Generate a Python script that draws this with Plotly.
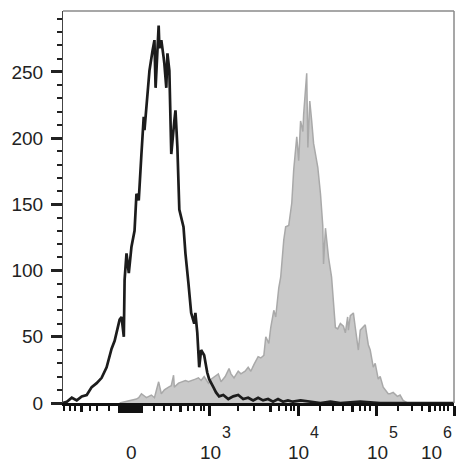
import plotly.graph_objects as go

# Display-scale channel positions (0..1022) and event counts
black_x = [0, 10, 23, 36, 49, 62, 75, 88, 101, 114, 127, 135, 148, 153, 159, 161, 166, 172, 179, 187,
           192, 198, 205, 211, 213, 221, 226, 234, 239, 242, 247, 250, 252, 257, 263, 265, 270, 273, 278, 283,
           291, 294, 299, 304, 315, 320, 328, 335, 343, 346, 351, 356, 361, 369, 377, 382, 393, 400, 408, 419,
           432, 445, 458, 471, 484, 497, 510, 523, 536, 549, 562, 575, 588, 601, 621, 647, 673, 699, 725, 777,
           829, 881, 933, 1022]
black_y = [0, 1, 4, 2, 5, 6, 12, 15, 19, 27, 41, 47, 63, 65, 50, 93, 113, 98, 118, 130,
           158, 153, 188, 216, 206, 238, 251, 266, 274, 238, 276, 285, 268, 274, 261, 256, 238, 264, 251, 188,
           213, 221, 193, 146, 133, 113, 90, 68, 60, 68, 53, 27, 40, 36, 23, 18, 12, 8, 5, 6,
           3, 5, 6, 3, 4, 2, 4, 2, 3, 1, 3, 1, 2, 1, 2, 1, 0, 1, 0, 1,
           0, 0, 0, 0]

gray_x = [148, 166, 179, 192, 198, 205, 218, 231, 239, 250, 257, 265, 276, 283, 289, 291, 302, 309, 320, 328,
          335, 346, 354, 361, 369, 380, 387, 398, 406, 413, 424, 434, 439, 447, 458, 465, 476, 484, 491, 499,
          510, 517, 525, 530, 538, 543, 551, 556, 564, 569, 577, 582, 590, 598, 603, 611, 616, 621, 627, 629,
          634, 637, 640, 645, 650, 655, 666, 673, 679, 681, 686, 694, 702, 707, 712, 718, 725, 733, 738, 744,
          746, 751, 759, 764, 770, 772, 777, 783, 790, 798, 803, 811, 816, 824, 829, 837, 842, 850, 855, 863,
          874, 881, 889, 900]
gray_y = [0, 1, 2, 3, 4, 7, 4, 6, 4, 16, 7, 10, 12, 13, 21, 12, 15, 16, 17, 16,
          17, 18, 19, 17, 20, 15, 18, 20, 22, 16, 20, 26, 22, 19, 24, 22, 24, 27, 24, 29,
          35, 34, 36, 50, 45, 57, 70, 65, 87, 95, 123, 133, 134, 151, 176, 201, 183, 213, 205, 218,
          236, 249, 193, 228, 213, 196, 178, 158, 134, 105, 132, 110, 95, 78, 57, 56, 60, 58, 53, 65,
          55, 66, 68, 57, 45, 40, 55, 57, 59, 44, 40, 27, 30, 18, 20, 12, 10, 7, 7, 8,
          5, 6, 2, 0]

# Axis decoration (tick positions on display scale)
decade_ticks = [383, 615, 819, 1022]
decade_base = ["10", "10", "10", "10"]
decade_exps = ["3", "4", "5", "6"]
label_centers = [385, 615, 822, 962]
zero_tick = 179
minor_ticks = [3, 18, 31, 70, 88, 120, 237, 263, 283, 328, 343, 361, 369,
               458, 499, 564, 582, 595, 603,
               673, 705, 733, 777, 790, 803,
               876, 913, 939, 972, 985, 996, 1006]
mid_ticks = [49, 307, 543, 757, 957]
zero_block = list(range(146, 207, 3))

y_ticks = [0, 50, 100, 150, 200, 250]

FONT = "Arial, Liberation Sans, sans-serif"
TXT = "#222222"

fig = go.Figure()
fig.add_trace(go.Scatter(x=gray_x, y=gray_y, mode="lines", fill="tozeroy",
                         fillcolor="#c9c9c9", line=dict(color="#a9a9a9", width=1.5),
                         showlegend=False, hoverinfo="skip"))
fig.add_trace(go.Scatter(x=black_x, y=black_y, mode="lines", xaxis="x2",
                         line=dict(color="#1c1c1c", width=2.7),
                         showlegend=False, hoverinfo="skip"))

fig.update_layout(
    width=466, height=464,
    margin=dict(l=61, r=12, t=11, b=61),
    paper_bgcolor="white", plot_bgcolor="white",
    font=dict(family=FONT, size=19, color=TXT),
    xaxis=dict(range=[0, 1022], showgrid=False, zeroline=False,
               showline=True, linecolor="#111111", linewidth=2.5,
               tickmode="array", tickvals=decade_ticks, ticks="outside",
               ticklen=10, tickwidth=3, tickcolor="#111111", showticklabels=False,
               minor=dict(tickmode="array", tickvals=minor_ticks, ticks="outside",
                          ticklen=5, tickwidth=1.5, tickcolor="#111111")),
    xaxis2=dict(range=[0, 1022], overlaying="x", anchor="y", side="bottom",
                showgrid=False, zeroline=False, showline=False,
                tickmode="array", tickvals=mid_ticks, ticks="outside",
                ticklen=8, tickwidth=2.5, tickcolor="#111111", showticklabels=False,
                minor=dict(tickmode="array", tickvals=zero_block, ticks="outside",
                           ticklen=9, tickwidth=1.6, tickcolor="#111111")),
    yaxis=dict(range=[0, 296], showgrid=False, zeroline=False,
               showline=True, linecolor="#444444", linewidth=1.2,
               tickmode="array", tickvals=y_ticks, ticks="outside",
               ticklen=11, tickwidth=3, tickcolor="#222222",
               ticklabelstandoff=4,
               tickfont=dict(family=FONT, size=19, color=TXT),
               minor=dict(dtick=10, tick0=0, ticks="outside", ticklen=5,
                          tickwidth=1.5, tickcolor="#222222")),
)

# frame (top / right)
fig.add_shape(type="line", xref="paper", yref="paper", x0=0, x1=1, y0=1, y1=1,
              line=dict(color="#8a8a8a", width=1.5))
fig.add_shape(type="line", xref="paper", yref="paper", x0=1, x1=1, y0=0, y1=1,
              line=dict(color="#8a8a8a", width=1.5))

# x tick labels: "0" and decades 10^n with raised exponent
fig.add_annotation(x=zero_tick, xref="x", y=0, yref="paper", text="0",
                   showarrow=False, xanchor="center", yanchor="middle", yshift=-49,
                   font=dict(family=FONT, size=19, color=TXT))
for c, base, e in zip(label_centers, decade_base, decade_exps):
    fig.add_annotation(x=c, xref="x", y=0, yref="paper", text=base,
                       showarrow=False, xanchor="center", yanchor="middle", yshift=-49,
                       font=dict(family=FONT, size=19, color=TXT))
    fig.add_annotation(x=c, xref="x", y=0, yref="paper", text=e,
                       showarrow=False, xanchor="center", yanchor="middle",
                       xshift=16, yshift=-29,
                       font=dict(family=FONT, size=16, color=TXT))

fig.write_html("out.html")
